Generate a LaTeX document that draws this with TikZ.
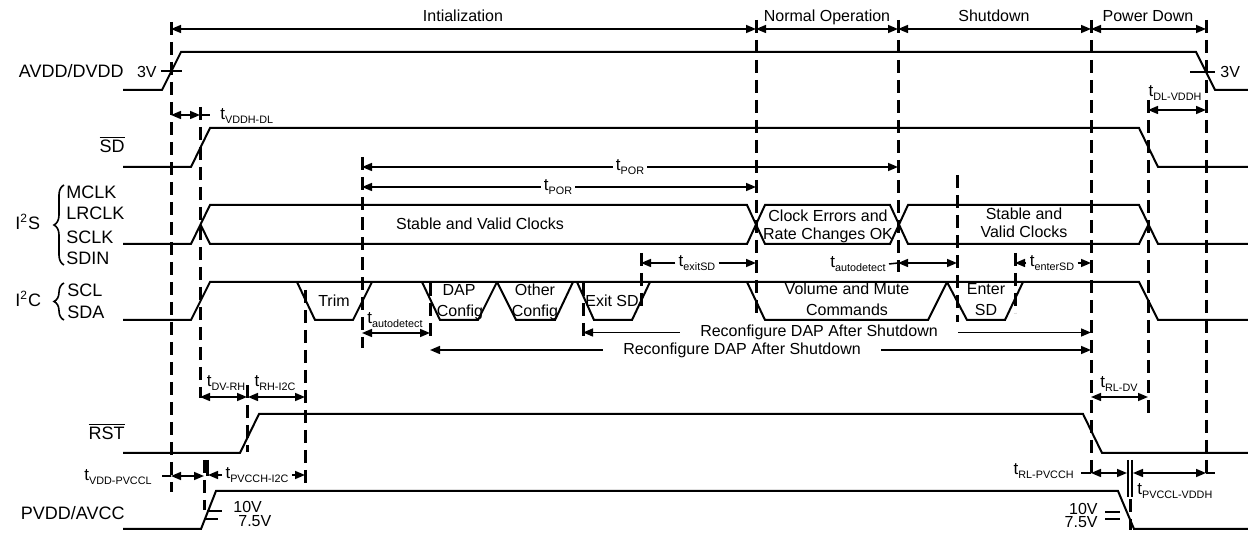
\documentclass[tikz,border=0pt]{standalone}
\usepackage{fontspec}
\setmainfont{Liberation Sans}
\usetikzlibrary{arrows.meta, decorations.pathreplacing}

\newcommand{\tdel}[1]{t\raisebox{-1.7pt}{\fontsize{5.4}{6}\selectfont #1}}

\begin{document}
\begin{tikzpicture}[x=0.5pt, y=-0.5pt,
  sig/.style={line width=1pt},
  thinline/.style={line width=0.75pt},
  guide/.style={line width=1.5pt, dash pattern=on 6.5pt off 3.5pt},
  bar/.style={line width=1.3pt},
  onetip/.style={line width=0.75pt, -{Triangle[length=5pt, width=4pt]}},
  twotip/.style={line width=0.75pt, {Triangle[length=5pt, width=4pt]}-{Triangle[length=5pt, width=4pt]}},
  signame/.style={font=\fontsize{9}{10}\selectfont, inner sep=0pt},
  txt/.style={font=\fontsize{8}{9}\selectfont, inner sep=0pt},
  tlab/.style={font=\fontsize{8.5}{9}\selectfont, inner sep=1.5pt},
  volt/.style={font=\fontsize{8}{9}\selectfont, inner sep=0pt},
  vtick/.style={line width=1.3pt}]

\useasboundingbox (0,0) rectangle (1248,533);

% Phases
\node[txt, anchor=base] (init) at (463,21.5) {Intialization};
\draw[twotip] (171,29) -- (756,29);
\node[txt, anchor=base] (normop) at (827,21.5) {Normal Operation};
\draw[twotip] (756,29) -- (898,29);
\node[txt, anchor=base] (shutdn) at (994,21.5) {Shutdown};
\draw[twotip] (898,29) -- (1091,29);
\node[txt, anchor=base] (pwrdn) at (1148,21.5) {Power Down};
\draw[twotip] (1091,29) -- (1206,29);

% Guide lines
\draw[guide] (171,22) -- (171,492);
\draw[guide] (200,107) -- (200,398);
\draw[guide] (247,385) -- (247,452);
\draw[guide] (305,290) -- (305,491);
\draw[guide] (362,157) -- (362,348);
\draw[guide] (430,283) -- (430,342);
\draw[guide] (583,283) -- (583,340);
\draw[guide] (641,253) -- (641,310);
\draw[guide] (756,20) -- (756,315);
\draw[guide] (898,20) -- (898,272);
\draw[guide] (957,175) -- (957,322);
\draw[guide] (1015,253) -- (1015,313);
\draw[guide] (1091,20) -- (1091,475);
\draw[guide] (1148,100) -- (1148,413);
\draw[guide] (1206,20) -- (1206,475);
\draw[guide] (204,460) -- (204,510);
\draw[bar] (207.5,460) -- (207.5,476);
\draw[bar] (1128,460) -- (1128,497);
\draw[bar] (1132,460) -- (1132,497);
\draw[guide] (1130,499) -- (1130,530);

% AVDD/DVDD
\node[signame, anchor=base east] (avdd) at (124,77.3) {AVDD/DVDD};
\draw[sig] (123,90) -- (162,90) -- (181,52) -- (1196,52) -- (1215,90) -- (1248,90);
\draw[sig] (161,71) -- (182,71);
\draw[sig] (1190,72) -- (1215,72);
\node[volt, anchor=base east] (avddL) at (157,77.3) {3V};
\node[volt, anchor=base west] (avddR) at (1220,78) {3V};

% SD
\node[signame, anchor=base east] (sd) at (125,153) {$\overline{\mbox{SD}}$};
\draw[sig] (123,167) -- (191,167) -- (210,128) -- (1139,128) -- (1158,167) -- (1248,167);
\draw[twotip] (171,115) -- (200,115);
\draw[thinline] (200,115) -- (210,115);
\node[tlab, anchor=west] (vddhdl) at (217,116) {\tdel{VDDH-DL}};
\draw[twotip] (1148,110) -- (1206,110);
\node[tlab] (dlvddh) at (1175,93) {\tdel{DL-VDDH}};

% tPOR
\node[tlab] (por1) at (630,167) {\tdel{POR}};
\draw[onetip] (por1.west) -- (362,167);
\draw[onetip] (por1.east) -- (898,167);
\node[tlab] (por2) at (558,187) {\tdel{POR}};
\draw[onetip] (por2.west) -- (362,187);
\draw[onetip] (por2.east) -- (756,187);

% I2S bus
\node[signame, anchor=base west] (i2s) at (15,230) {I\textsuperscript{2}S};
\draw[line width=0.8pt, decorate, decoration={brace, amplitude=5pt}] (64,265) -- (64,185);
\node[signame, anchor=base west] (mclk) at (66,198.3) {MCLK};
\node[signame, anchor=base west] (lrclk) at (66,220) {LRCLK};
\node[signame, anchor=base west] (sclk) at (66,243.3) {SCLK};
\node[signame, anchor=base west] (sdin) at (66,265) {SDIN};
\draw[sig] (123,244) -- (191,244) -- (210,205) -- (747,205) -- (765,244) -- (890,244) -- (908,205) -- (1139,205) -- (1158,244) -- (1248,244);
\draw[sig] (200.5,224.5) -- (210,244) -- (747,244) -- (765,205) -- (890,205) -- (908,244) -- (1139,244) -- (1148.5,224.5);
\node[txt, anchor=base] (stab1) at (480,230) {Stable and Valid Clocks};
\node[txt, anchor=base] (clk1) at (828,221.5) {Clock Errors and};
\node[txt, anchor=base] (clk2) at (828,240) {Rate Changes OK};
\node[txt, anchor=base] (stab2a) at (1024,220) {Stable and};
\node[txt, anchor=base] (stab2b) at (1024,238) {Valid Clocks};

% timings above I2C
\node[tlab] (exitsd) at (697,263) {\tdel{exitSD}};
\draw[onetip] (exitsd.west) -- (641,263);
\draw[onetip] (exitsd.east) -- (756,263);
\node[tlab, anchor=east] (autoR) at (889,264) {\tdel{autodetect}};
\draw[thinline] (autoR.east) -- (898,263);
\draw[twotip] (898,263) -- (957,263);
\node[tlab] (entsd) at (1052,263) {\tdel{enterSD}};
\draw[onetip] (entsd.west) -- (1015,263);
\draw[onetip] (entsd.east) -- (1091,263);

% I2C bus
\node[signame, anchor=base west] (i2c) at (15,306.7) {I\textsuperscript{2}C};
\draw[line width=0.8pt, decorate, decoration={brace, amplitude=5pt}] (64,320) -- (64,283);
\node[signame, anchor=base west] (scl) at (67,296.7) {SCL};
\node[signame, anchor=base west] (sda) at (67,318.3) {SDA};
\draw[sig] (123,320) -- (191,320) -- (210,282) -- (1139,282) -- (1158,320) -- (1248,320);
\draw[sig] (297,282) -- (315,320) -- (353,320) -- (372,282);
\draw[sig] (422,282) -- (440,320) -- (478,320) -- (497,282);
\draw[sig] (497,282) -- (516,320) -- (555,320) -- (573,282);
\draw[sig] (577,282) -- (594,320) -- (632,320) -- (650,282);
\draw[sig] (747,282) -- (765,320) -- (928,320) -- (947,282);
\draw[sig] (947,282) -- (967,320) -- (1005,320) -- (1023,282);
\node[txt, anchor=base] (trim) at (334,306.5) {Trim};
\node[txt, anchor=base] (dap1) at (459,296) {DAP};
\node[txt, anchor=base] (dap2) at (460,316.5) {Config};
\node[txt, anchor=base] (oth1) at (535,296) {Other};
\node[txt, anchor=base] (oth2) at (535,316.5) {Config};
\node[txt, anchor=base] (exitx) at (612,306.5) {Exit SD};
\node[txt, anchor=base] (vol1) at (847,295) {Volume and Mute};
\node[txt, anchor=base] (vol2) at (847,315.5) {Commands};
\node[txt, anchor=base] (ent1) at (986,295) {Enter};
\node[txt, anchor=base] (ent2) at (986,316) {SD};

% timings below I2C
\node[tlab] (autoL) at (395,320) {\tdel{autodetect}};
\draw[twotip] (362,333) -- (430,333);
\node[txt, inner xsep=10pt] (recfg1) at (819,332.5) {Reconfigure DAP After Shutdown};
\draw[onetip] (recfg1.west) -- (583,332.5);
\draw[onetip] (recfg1.east) -- (1091,332.5);
\node[txt, inner xsep=10pt] (recfg2) at (742,350) {Reconfigure DAP After Shutdown};
\draw[onetip] (recfg2.west) -- (430,350);
\draw[onetip] (recfg2.east) -- (1091,350);

% RST
\node[tlab] (dvrh) at (226,383) {\tdel{DV-RH}};
\node[tlab] (rhi2c) at (275,383) {\tdel{RH-I2C}};
\draw[twotip] (200,397) -- (247,397);
\draw[twotip] (248,397) -- (305,397);
\node[tlab] (rldv) at (1119,384) {\tdel{RL-DV}};
\draw[twotip] (1091,397) -- (1148,397);
\node[signame, anchor=base east] (rst) at (125,440) {$\overline{\mbox{RST}}$};
\draw[sig] (123,453) -- (240,453) -- (259,414) -- (1083,414) -- (1102,453) -- (1248,453);

% PVDD/AVCC
\node[tlab, anchor=east] (vddpvccl) at (155,477) {\tdel{VDD-PVCCL}};
\draw[thinline] (162,476) -- (171,476);
\draw[twotip] (171,476) -- (204,476);
\node[tlab] (pvcchi2c) at (257,475) {\tdel{PVCCH-I2C}};
\draw[onetip] (pvcchi2c.west) -- (208,475);
\draw[onetip] (pvcchi2c.east) -- (305,475);
\node[tlab, anchor=east] (rlpvcch) at (1077,471) {\tdel{RL-PVCCH}};
\draw[thinline] (1081,473) -- (1091,473);
\draw[twotip] (1091,473) -- (1127,473);
\draw[twotip] (1133,473) -- (1206,473);
\draw[thinline] (1206,473) -- (1215,473);
\node[tlab, anchor=west] (pvcclvddh) at (1134,491) {\tdel{PVCCL-VDDH}};
\node[signame, anchor=base east] (pvdd) at (125,520) {PVDD/AVCC};
\draw[sig] (123,529) -- (201,529) -- (216,491) -- (1118,491) -- (1134,529) -- (1248,529);
\draw[vtick] (207,511) -- (222,511);
\draw[vtick] (205,519) -- (218,519);
\node[volt, anchor=base west] (v10L) at (233,513) {10V};
\node[volt, anchor=base west] (v75L) at (238,527) {7.5V};
\draw[vtick] (1105,512) -- (1120,512);
\draw[vtick] (1105,519) -- (1120,519);
\node[volt, anchor=base east] (v10R) at (1098,515) {10V};
\node[volt, anchor=base east] (v75R) at (1098,528) {7.5V};

\end{tikzpicture}
\end{document}
